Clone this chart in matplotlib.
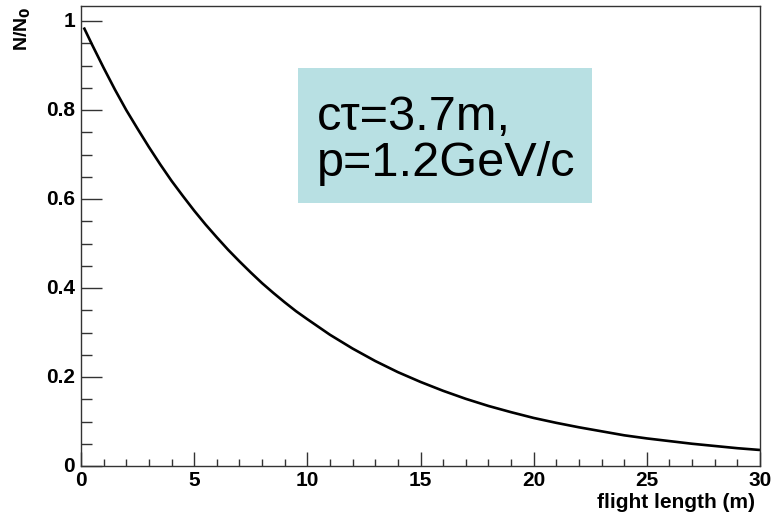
import matplotlib
matplotlib.use("Agg")
import matplotlib.pyplot as plt
from matplotlib.patches import Rectangle
from matplotlib.ticker import MultipleLocator

# survival fraction
flight_length = [0.15, 0.5, 1, 1.5, 2, 2.5, 3, 3.5, 4, 4.5, 5, 5.5, 6, 6.5, 7, 7.5, 8, 8.5,
                 9, 9.5, 10, 11, 12, 13, 14, 15, 16, 17, 18, 19, 20, 21, 22, 23, 24, 25,
                 26, 27, 28, 29, 30]
fraction = [0.983, 0.946, 0.895, 0.846, 0.80, 0.758, 0.717, 0.678, 0.641, 0.607, 0.574,
            0.543, 0.514, 0.486, 0.46, 0.435, 0.411, 0.389, 0.368, 0.348, 0.33, 0.295,
            0.264, 0.236, 0.211, 0.189, 0.169, 0.151, 0.135, 0.121, 0.108, 0.097, 0.087,
            0.078, 0.069, 0.062, 0.056, 0.050, 0.045, 0.040, 0.036]

box_lines = ["c\u03c4=3.7m,", "p=1.2GeV/c"]

W, H = 772, 518
plt.rcParams["font.family"] = ["Liberation Sans", "DejaVu Sans"]

fig = plt.figure(figsize=(W / 100, H / 100), dpi=100)
fig.patch.set_facecolor("white")
ax = fig.add_axes([81 / W, 1 - 466 / H, (760 - 81) / W, (466 - 6) / H])

ax.plot(flight_length, fraction, color="black", lw=1.9, solid_joinstyle="round")
ax.set_xlim(0, 30)
ax.set_ylim(0, 1.034)

ax.xaxis.set_major_locator(MultipleLocator(5))
ax.xaxis.set_minor_locator(MultipleLocator(1))
ax.yaxis.set_major_locator(MultipleLocator(0.2))
ax.yaxis.set_minor_locator(MultipleLocator(0.05))
ax.tick_params(axis="x", which="major", direction="in", length=10, width=1, color="#333333")
ax.tick_params(axis="x", which="minor", direction="in", length=5, width=1, color="#333333")
ax.tick_params(axis="y", which="major", direction="in", length=15, width=1, color="#333333")
ax.tick_params(axis="y", which="minor", direction="in", length=8, width=1, color="#333333")
ax.set_xticklabels([])
ax.set_yticklabels([])
for v in [0, 5, 10, 15, 20, 25, 30]:
    ax.text(v, -0.011, str(v), ha="center", va="top", fontsize=15, fontweight="bold")
for v in [0, 0.2, 0.4, 0.6, 0.8, 1.0]:
    lab = "0" if v == 0 else ("1" if v == 1 else f"{v:.1f}")
    ax.text(-0.009, v, lab, ha="right", va="center", fontsize=15, fontweight="bold",
            transform=ax.get_yaxis_transform())
for s in ax.spines.values():
    s.set_color("#333333")
    s.set_linewidth(1)

fig.text(755 / W, 1 - 502 / H, "flight length (m)", ha="right", va="center",
         fontsize=15, fontweight="bold")
fig.text(23 / W, 1 - 6 / H, r"N/N$_\mathbf{0}$", rotation=90, ha="center", va="top",
         fontsize=14, fontweight="bold")

fig.patches.append(Rectangle((298 / W, 1 - 203 / H), (592 - 298) / W, (203 - 68) / H,
                             transform=fig.transFigure, facecolor="#b8e0e3",
                             edgecolor="none", zorder=3))
fig.text(317 / W, 1 - 130 / H, box_lines[0], ha="left", va="baseline", fontsize=35, zorder=4)
fig.text(317 / W, 1 - 176 / H, box_lines[1], ha="left", va="baseline", fontsize=35, zorder=4)

fig.savefig("out.png", dpi=100)
